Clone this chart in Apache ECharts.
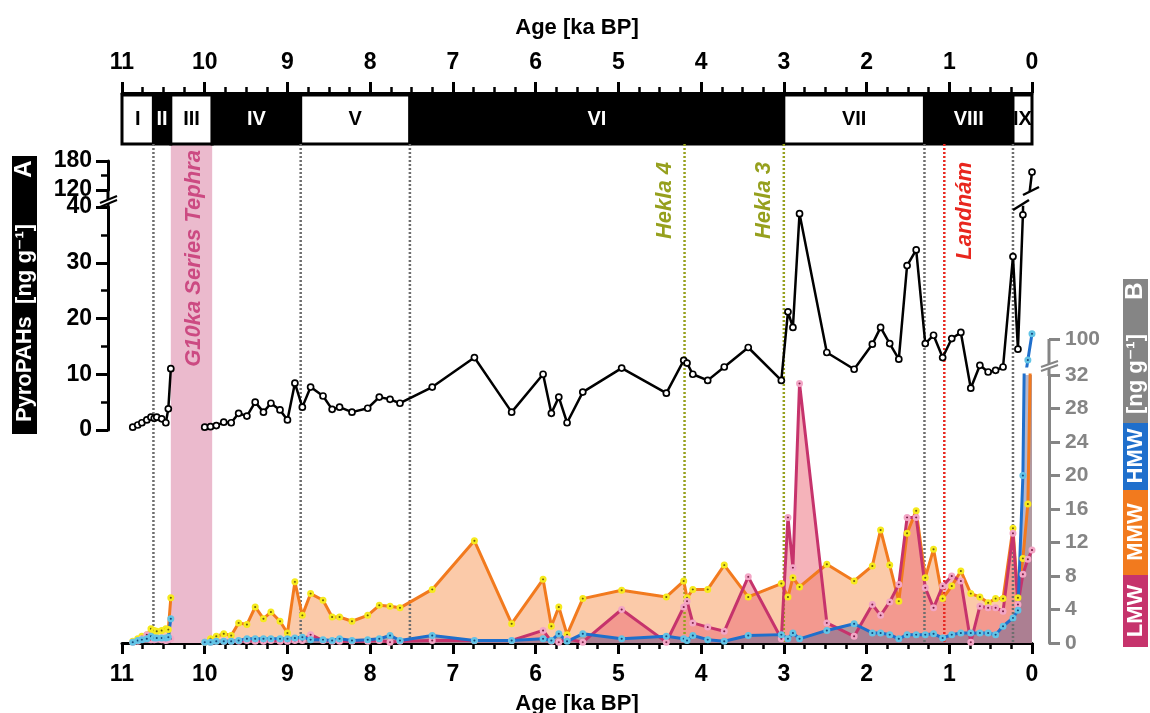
<!DOCTYPE html>
<html>
<head>
<meta charset="utf-8">
<script src="https://cdn.jsdelivr.net/npm/echarts@6/dist/echarts.min.js"></script>
<style>
  html, body { margin: 0; padding: 0; background: #fff; }
  #chart { width: 1150px; height: 713px; }
</style>
</head>
<body>
<div id="chart"></div>
<script>
// Sample ages (ka BP); the entry at 10.2 marks the tephra gap (no data)
const ages = [10.87, 10.81, 10.76, 10.70, 10.65, 10.61, 10.58, 10.52, 10.47, 10.44, 10.41, 10.2,
  10.00, 9.93, 9.86, 9.77, 9.68, 9.59, 9.49, 9.39, 9.29, 9.20, 9.09, 9.00, 8.91, 8.82, 8.72,
  8.57, 8.46, 8.37, 8.22, 8.03, 7.89, 7.76, 7.64,
  7.25, 6.74, 6.29,
  5.91, 5.81, 5.72, 5.62, 5.43,
  4.96, 4.42, 4.21, 4.17, 4.10, 3.92, 3.72, 3.43,
  3.03, 2.95, 2.89, 2.81, 2.48, 2.15,
  1.93, 1.83, 1.72, 1.61, 1.51, 1.40, 1.29, 1.19, 1.08, 0.97, 0.86, 0.74, 0.63, 0.53, 0.44, 0.35,
  0.23, 0.17, 0.11, 0.05, 0.00];

// Total pyrogenic PAHs [ng g-1]
const pyroPAHs = [0.5, 0.9, 1.3, 1.8, 2.3, 2.1, 2.3, 2.0, 1.3, 3.8, 11.0, null,
  0.5, 0.6, 0.8, 1.4, 1.3, 3.0, 2.5, 5.0, 3.2, 4.8, 3.6, 1.8, 8.4, 4.1, 7.7,
  6.1, 3.7, 4.1, 3.2, 3.9, 5.9, 5.5, 4.8,
  7.7, 13.0, 3.2,
  10.0, 3.0, 5.9, 1.3, 6.8,
  11.1, 6.6, 12.5, 12.0, 10.0, 8.9, 11.3, 14.8,
  8.9, 21.2, 18.4, 38.8, 13.9, 10.9,
  15.4, 18.4, 15.5, 12.7, 29.5, 32.3, 15.5, 17.0, 13.0, 16.4, 17.5, 7.5, 11.6, 10.4, 10.7, 11.3,
  31.1, 14.5, 38.6, 85, 157];

// Low molecular weight PAHs
const lmw = [0.1, 0.2, 0.5, 1.0, 0.4, 0.4, 0.5, 0.4, 0.3, 0.4, 0.5, null,
  0.1, 0.1, 0.2, 0.2, 0.2, 0.2, 0.3, 0.2, 0.2, 0.3, 0.2, 0.2, 0.3, 0.3, 1.0,
  0.3, 0.2, 0.2, 0.2, 0.2, 0.3, 0.1, 0.2,
  0.3, 0.3, 0.3,
  1.5, 0.2, 0.1, 0.5, 0.1,
  4.0, 0.1, 4.3, 5.0, 2.4, 1.9, 1.4, 7.9,
  0.5, 15.0, 9.0, 31.0, 2.4, 0.8,
  4.6, 3.3, 4.9, 7.0, 15.0, 15.0, 6.6, 4.2, 6.8, 8.0, 7.4, 0.1, 4.4, 4.2, 4.2, 3.8,
  13.1, 4.6, 8.2, 10.0, 11.1];

// Medium molecular weight PAHs
const mmw = [0.2, 0.5, 0.8, 1.0, 1.7, 1.5, 1.4, 1.5, 1.7, 1.6, 5.4, null,
  0.1, 0.5, 0.8, 1.1, 0.9, 2.4, 2.2, 4.3, 2.9, 3.7, 2.6, 1.2, 7.3, 3.3, 5.9,
  5.1, 3.1, 3.1, 2.6, 3.3, 4.5, 4.4, 4.2,
  6.4, 12.2, 2.3,
  7.6, 2.0, 4.3, 1.0, 5.3,
  6.3, 5.5, 7.4, 5.4, 6.4, 6.4, 9.3, 5.5,
  7.1, 5.5, 7.8, 6.7, 9.4, 7.4,
  9.2, 13.5, 9.3, 5.0, 13.1, 15.8, 7.8, 11.2, 5.3, 6.8, 8.6, 5.9, 5.5, 4.8, 5.3, 5.3,
  13.7, 5.4, 10.1, 16.6, 45];

// High molecular weight PAHs
const hmw = [0.1, 0.3, 0.4, 0.5, 0.8, 0.6, 0.6, 0.6, 0.6, 0.7, 2.9, null,
  0.1, 0.1, 0.2, 0.2, 0.2, 0.3, 0.5, 0.5, 0.5, 0.5, 0.5, 0.5, 0.6, 0.7, 0.4,
  0.4, 0.3, 0.5, 0.3, 0.4, 0.5, 0.9, 0.3,
  0.9, 0.3, 0.3,
  0.5, 0.3, 1.1, 0.2, 1.1,
  0.5, 0.8, 0.5, 0.3, 0.9, 0.4, 0.2, 0.9,
  1.0, 0.5, 1.2, 0.5, 1.5, 2.3,
  1.2, 1.2, 1.0, 0.5, 1.0, 1.0, 1.0, 1.1, 0.6, 1.0, 1.2, 1.2, 1.2, 1.2, 1.0, 2.0,
  3.0, 3.9, 20.0, 69, 108];

// Pollen / climate zones along the top
const zoneNames = ['I', 'II', 'III', 'IV', 'V', 'VI', 'VII', 'VIII', 'IX'];
const zoneEdges = [11, 10.62, 10.41, 9.91, 8.84, 7.52, 3.0, 1.3, 0.23, 0];

// Marker horizons
const zoneLines = [10.62, 8.84, 7.52, 1.3, 0.23];
const heklaAges = [4.2, 3.0];
const heklaNames = ['Hekla 4', 'Hekla 3'];
const landnamAge = [1.06];
const landnamName = ['Landnám'];
const tephraRange = [10.41, 9.91];
const tephraName = 'G10ka Series Tephra';

const FONT = '"Liberation Sans", Arial, "DejaVu Sans", sans-serif';
const C = {
  black: '#000', gray: '#858585', olive: '#96a01e', red: '#e8261e',
  tephra: '#ebbacd', tephraText: '#cc4a82',
  orange: '#f27a1e', crimson: '#c6336c', blue: '#1f6fcc',
  mmwFill: '#fbcaa9', lmwFill: 'rgba(236,104,118,0.5)', hmwFill: 'rgba(86,96,150,0.45)',
  yellow: '#f6ea1e', pink: '#f3a6c6', cyan: '#62c4e6'
};

const pts = vals => ages.map((a, i) => [a, vals[i] == null ? '-' : vals[i]]);

const L = 122, R = 118;
const g = (top, height) => ({ left: L, right: R, top: top, height: height, outerBoundsMode: 'none' });
const grids = [
  g(95, 49),   // 0 zone bar
  g(207, 223), // 1 panel A, 0-40
  g(161, 29),  // 2 panel A, 120-180
  g(375, 268), // 3 panel B, 0-32
  g(331, 35),  // 4 panel B, upper part
  g(144, 499), // 5 overlay for horizons
  g(40, 53)    // 6 top age scale (axis on its lower edge)
];

const axisFont = { fontFamily: FONT, fontWeight: 'bold', fontSize: 23, color: '#000' };
const titleFont = { fontFamily: FONT, fontWeight: 'bold', fontSize: 22, color: '#000' };

function xAx(i, shown, tickInside) {
  return {
    gridIndex: i, type: 'value', min: 0, max: 11, interval: 1, inverse: true,
    show: shown, position: 'bottom',
    axisLine: { show: true, onZero: false, lineStyle: { color: '#000', width: 3 } },
    axisTick: { show: true, inside: !!tickInside, length: 11, lineStyle: { color: '#000', width: 3 } },
    minorTick: { show: true, splitNumber: 4, length: 6, lineStyle: { color: '#000', width: 2.5 } },
    axisLabel: Object.assign({ margin: 20, showMinLabel: true, showMaxLabel: true }, axisFont),
    splitLine: { show: false }
  };
}

// Top scale: ticks point upward from the lower edge of grid 6, labels sit above them
const topAxis = xAx(6, true, true);
topAxis.axisLabel.inside = true;
topAxis.axisLabel.margin = 19;
topAxis.name = 'Age [ka BP]';
topAxis.nameLocation = 'middle';
topAxis.nameGap = -76;
topAxis.nameMoveOverlap = false;
topAxis.nameTextStyle = titleFont;

const bottomAxis = xAx(3, true, false);
bottomAxis.name = 'Age [ka BP]';
bottomAxis.nameLocation = 'middle';
bottomAxis.nameGap = 50;
bottomAxis.nameMoveOverlap = false;
bottomAxis.nameTextStyle = titleFont;

const xAxes = [xAx(0, false), xAx(1, false), xAx(2, false), bottomAxis, xAx(4, false), xAx(5, false), topAxis];

const leftAxisBase = {
  type: 'value', position: 'left', offset: 14,
  axisLine: { show: true, onZero: false, lineStyle: { color: '#000', width: 3 } },
  axisTick: { show: true, length: 12, lineStyle: { color: '#000', width: 3 } },
  minorTick: { show: true, splitNumber: 2, length: 7, lineStyle: { color: '#000', width: 2.5 } },
  axisLabel: Object.assign({ margin: 16, showMinLabel: true, showMaxLabel: true }, axisFont),
  splitLine: { show: false }
};
const grayFont = { fontFamily: FONT, fontWeight: 'bold', fontSize: 21, color: C.gray };
const rightAxisBase = {
  type: 'value', position: 'right', offset: 17,
  axisLine: { show: true, onZero: false, lineStyle: { color: C.gray, width: 3 } },
  axisTick: { show: true, length: 11, lineStyle: { color: C.gray, width: 3 } },
  axisLabel: Object.assign({ margin: 16, showMinLabel: true, showMaxLabel: true }, grayFont),
  splitLine: { show: false }
};

const yAxes = [
  { gridIndex: 0, type: 'value', min: 0, max: 1, show: false },
  Object.assign({}, leftAxisBase, { gridIndex: 1, min: 0, max: 40, interval: 10 }),
  Object.assign({}, leftAxisBase, { gridIndex: 2, min: 120, max: 180, interval: 60 }),
  Object.assign({}, rightAxisBase, { gridIndex: 3, min: 0, max: 32, interval: 4 }),
  Object.assign({}, rightAxisBase, {
    gridIndex: 4, min: 60, max: 112, interval: 10,
    axisLine: { show: false, onZero: false },
    axisTick: { show: true, length: 11, customValues: [100], lineStyle: { color: C.gray, width: 3 } },
    axisLabel: Object.assign({ margin: 16, customValues: [100] }, grayFont)
  }),
  { gridIndex: 5, type: 'value', min: 0, max: 1, show: false },
  { gridIndex: 6, type: 'value', min: 0, max: 1, show: false }
];

// Zone bar along the top
function renderZone(params, api) {
  const i = params.dataIndex;
  const p0 = api.coord([api.value(0), 1]);
  const p1 = api.coord([api.value(1), 0]);
  const dark = i % 2 === 1;
  const x = Math.min(p0[0], p1[0]);
  const w = Math.abs(p1[0] - p0[0]);
  return {
    type: 'group',
    children: [
      { type: 'rect', shape: { x: x, y: p0[1], width: w, height: p1[1] - p0[1] },
        style: { fill: dark ? '#000' : '#fff', stroke: '#000', lineWidth: 3 } },
      { type: 'text', x: x + w / 2, y: (p0[1] + p1[1]) / 2,
        style: { text: zoneNames[i], align: 'center', verticalAlign: 'middle',
                 fill: dark ? '#fff' : '#000', font: 'bold 20px ' + FONT } }
    ]
  };
}

// Vertical dotted horizons with optional rotated captions
function horizon(color, names, dx) {
  return function (params, api) {
    const top = api.coord([api.value(0), 1]);
    const bot = api.coord([api.value(0), 0]);
    const children = [{
      type: 'line', shape: { x1: top[0], y1: top[1], x2: bot[0], y2: bot[1] },
      style: { stroke: color, lineWidth: 2.5, lineDash: [2, 2] }
    }];
    if (names) {
      children.push({
        type: 'text', x: top[0] + dx, y: top[1] + 18, rotation: Math.PI / 2,
        style: { text: names[params.dataIndex], align: 'right', verticalAlign: 'middle',
                 fill: color, font: 'italic bold 22px ' + FONT }
      });
    }
    return { type: 'group', children: children };
  };
}

function renderTephra(params, api) {
  const p0 = api.coord([api.value(0), 1]);
  const p1 = api.coord([api.value(1), 0]);
  const x = Math.min(p0[0], p1[0]);
  const w = Math.abs(p1[0] - p0[0]);
  return {
    type: 'group',
    children: [
      { type: 'rect', shape: { x: x, y: p0[1], width: w, height: p1[1] - p0[1] }, style: { fill: C.tephra } },
      { type: 'text', x: x + w / 2 + 2, y: p0[1] + 6, rotation: Math.PI / 2,
        style: { text: tephraName, align: 'right', verticalAlign: 'middle',
                 fill: C.tephraText, font: 'italic bold 22px ' + FONT } }
    ]
  };
}

function areaSeries(vals, fill) {
  return {
    type: 'line', xAxisIndex: 3, yAxisIndex: 3, data: pts(vals), z: 2,
    showSymbol: false, symbol: 'none', silent: true, connectNulls: false,
    lineStyle: { width: 0 }, areaStyle: { color: fill, opacity: 1 }
  };
}
function dataLine(xi, yi, vals, lineColor, ring, core) {
  return {
    type: 'line', xAxisIndex: xi, yAxisIndex: yi, data: pts(vals), z: 5,
    connectNulls: false, silent: true, showAllSymbol: true,
    symbol: 'circle', symbolSize: 4.5,
    lineStyle: { color: lineColor, width: 3 },
    itemStyle: { color: core, borderColor: ring, borderWidth: 2.5 }
  };
}
function totalLine(xi, yi) {
  return {
    type: 'line', xAxisIndex: xi, yAxisIndex: yi, data: pts(pyroPAHs), z: 6,
    connectNulls: false, silent: true, showAllSymbol: true,
    symbol: 'circle', symbolSize: 6,
    lineStyle: { color: '#000', width: 2.5 },
    itemStyle: { color: '#fff', borderColor: '#000', borderWidth: 1.7 }
  };
}

const zoneData = zoneNames.map((n, i) => [zoneEdges[i], zoneEdges[i + 1]]);

const series = [
  { type: 'custom', xAxisIndex: 5, yAxisIndex: 5, z: 1, silent: true,
    data: [tephraRange], renderItem: renderTephra },
  { type: 'custom', xAxisIndex: 0, yAxisIndex: 0, z: 3, silent: true,
    data: zoneData, renderItem: renderZone },
  areaSeries(mmw, C.mmwFill),
  areaSeries(lmw, C.lmwFill),
  areaSeries(hmw, C.hmwFill),
  { type: 'custom', xAxisIndex: 5, yAxisIndex: 5, z: 3, silent: true,
    data: zoneLines.map(v => [v]), renderItem: horizon('#6e6e6e', null, 0) },
  { type: 'custom', xAxisIndex: 5, yAxisIndex: 5, z: 3, silent: true,
    data: heklaAges.map(v => [v]), renderItem: horizon(C.olive, heklaNames, -20) },
  { type: 'custom', xAxisIndex: 5, yAxisIndex: 5, z: 3, silent: true,
    data: landnamAge.map(v => [v]), renderItem: horizon(C.red, landnamName, 21) },
  dataLine(3, 3, mmw, C.orange, C.yellow, '#6a5a10'),
  dataLine(3, 3, lmw, C.crimson, C.pink, '#7a1f45'),
  dataLine(3, 3, hmw, C.blue, C.cyan, '#16467a'),
  dataLine(4, 4, hmw, C.blue, C.cyan, '#16467a'),
  totalLine(1, 1),
  totalLine(2, 2)
];

// Side captions, axis joins and break marks
const rot = Math.PI / 2;
const capFont = 'bold 22px ' + FONT;
const graphic = [
  { type: 'rect', shape: { x: 12, y: 156, width: 25, height: 278 }, style: { fill: '#000' } },
  { type: 'text', x: 24.5, y: 169, rotation: rot,
    style: { text: 'A', align: 'center', verticalAlign: 'middle', fill: '#fff', font: 'bold 24px ' + FONT } },
  { type: 'text', x: 24.5, y: 323, rotation: rot,
    style: { text: 'PyroPAHs  [ng g⁻¹]', align: 'center', verticalAlign: 'middle', fill: '#fff', font: capFont } },

  { type: 'rect', shape: { x: 1123, y: 279, width: 25, height: 144 }, style: { fill: C.gray } },
  { type: 'rect', shape: { x: 1123, y: 423, width: 25, height: 67 }, style: { fill: C.blue } },
  { type: 'rect', shape: { x: 1123, y: 490, width: 25, height: 85 }, style: { fill: C.orange } },
  { type: 'rect', shape: { x: 1123, y: 575, width: 25, height: 72 }, style: { fill: C.crimson } },
  { type: 'text', x: 1135.5, y: 291, rotation: rot,
    style: { text: 'B', align: 'center', verticalAlign: 'middle', fill: '#fff', font: 'bold 24px ' + FONT } },
  { type: 'text', x: 1135.5, y: 374, rotation: rot,
    style: { text: '[ng g⁻¹]', align: 'center', verticalAlign: 'middle', fill: '#fff', font: capFont } },
  { type: 'text', x: 1135.5, y: 456, rotation: rot,
    style: { text: 'HMW', align: 'center', verticalAlign: 'middle', fill: '#fff', font: capFont } },
  { type: 'text', x: 1135.5, y: 532, rotation: rot,
    style: { text: 'MMW', align: 'center', verticalAlign: 'middle', fill: '#fff', font: capFont } },
  { type: 'text', x: 1135.5, y: 611, rotation: rot,
    style: { text: 'LMW', align: 'center', verticalAlign: 'middle', fill: '#fff', font: capFont } },

  // join of the broken left axis
  { type: 'line', shape: { x1: 108, y1: 189, x2: 108, y2: 208 }, style: { stroke: '#000', lineWidth: 3 } },
  { type: 'polygon', shape: { points: [[100, 203], [117, 196], [117, 200], [100, 207]] }, style: { fill: '#fff' }, z: 10 },
  { type: 'line', shape: { x1: 100, y1: 203, x2: 117, y2: 196 }, style: { stroke: '#000', lineWidth: 2 }, z: 11 },
  { type: 'line', shape: { x1: 100, y1: 207, x2: 117, y2: 200 }, style: { stroke: '#000', lineWidth: 2 }, z: 11 },

  // break on the total curve
  { type: 'line', shape: { x1: 1013, y1: 210, x2: 1029, y2: 200 }, style: { stroke: '#000', lineWidth: 2.5 }, z: 11 },
  { type: 'line', shape: { x1: 1023, y1: 195, x2: 1039, y2: 187 }, style: { stroke: '#000', lineWidth: 2.5 }, z: 11 },

  // join of the broken right axis
  { type: 'line', shape: { x1: 1049, y1: 339, x2: 1049, y2: 376 }, style: { stroke: C.gray, lineWidth: 3 } },
  { type: 'polygon', shape: { points: [[1041, 367], [1058, 361], [1058, 365], [1041, 371]] }, style: { fill: '#fff' }, z: 10 },
  { type: 'line', shape: { x1: 1041, y1: 367, x2: 1058, y2: 361 }, style: { stroke: C.gray, lineWidth: 2 }, z: 11 },
  { type: 'line', shape: { x1: 1041, y1: 371, x2: 1058, y2: 365 }, style: { stroke: C.gray, lineWidth: 2 }, z: 11 }
];

const chart = echarts.init(document.getElementById('chart'), null, { renderer: 'canvas' });
chart.setOption({
  animation: false,
  backgroundColor: '#fff',
  grid: grids,
  xAxis: xAxes,
  yAxis: yAxes,
  series: series,
  graphic: graphic
});
</script>
</body>
</html>
